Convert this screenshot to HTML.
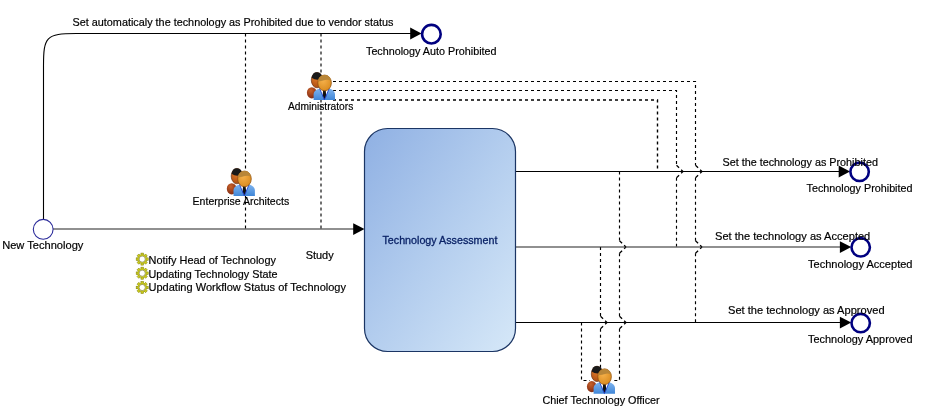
<!DOCTYPE html>
<html>
<head>
<meta charset="utf-8">
<title>Technology Assessment Workflow</title>
<style>
html,body{margin:0;padding:0;background:#fff;}
body{width:933px;height:419px;overflow:hidden;}
svg{display:block;will-change:transform;}
text{font-family:"Liberation Sans",sans-serif;font-size:11.4px;fill:#000;stroke:#000;stroke-width:0.2px;}
.ln{stroke:#000;stroke-width:1.1;fill:none;}
.ds{stroke:#000;stroke-width:1.15;fill:none;stroke-dasharray:3 3;}
.ev{fill:#fff;stroke:#000080;stroke-width:2.6;}
</style>
</head>
<body>
<svg width="933" height="419" viewBox="0 0 933 419">
<defs>
<linearGradient id="boxg" x1="0" y1="0" x2="1" y2="1">
<stop offset="0" stop-color="#8fb0e3"/>
<stop offset="0.5" stop-color="#b3cdee"/>
<stop offset="1" stop-color="#d6e8f8"/>
</linearGradient>
<radialGradient id="faceF" cx="0.4" cy="0.35" r="0.7">
<stop offset="0" stop-color="#f5b04a"/>
<stop offset="1" stop-color="#d98a1e"/>
</radialGradient>
<radialGradient id="faceB" cx="0.4" cy="0.35" r="0.7">
<stop offset="0" stop-color="#e07a2a"/>
<stop offset="1" stop-color="#a84a10"/>
</radialGradient>
<radialGradient id="bodyB" cx="0.4" cy="0.3" r="0.8">
<stop offset="0" stop-color="#c8622a"/>
<stop offset="1" stop-color="#7a2410"/>
</radialGradient>
<linearGradient id="suit" x1="0" y1="0" x2="0" y2="1">
<stop offset="0" stop-color="#7fb4ee"/>
<stop offset="1" stop-color="#3f86d8"/>
</linearGradient>
<g id="people">
<!-- back person -->
<ellipse cx="4.8" cy="20.3" rx="4.9" ry="5.6" fill="url(#bodyB)"/>
<ellipse cx="10" cy="7.6" rx="5.7" ry="7.7" fill="url(#faceB)" stroke="#5a2408" stroke-width="0.6"/>
<path d="M4.6 5.2 A5.7 7.7 0 0 1 15.6 5.6 Q10 9 4.6 5.2Z" fill="#1a1a1a"/>
<!-- front person -->
<path d="M6.6 27.5 L6.6 21.5 Q6.8 17.6 12.5 16 L22.5 16 Q27.6 17.6 28 21.5 L28 27.5Z" fill="url(#suit)"/>
<path d="M12.6 16 L17.4 27.4 L22.2 16Z" fill="#fff"/>
<path d="M16.2 17 L18.6 17 L19.3 23.5 L17.4 27.2 L15.6 23.5Z" fill="#111"/>
<path d="M12.6 16 L17.4 27.4 L22.2 16" fill="none" stroke="#1c3fd0" stroke-width="0.9"/>
<ellipse cx="17.6" cy="10.4" rx="6.8" ry="7.9" fill="url(#faceF)" stroke="#8a4a0c" stroke-width="0.7"/>
<path d="M11 8.6 A6.8 7.9 0 0 1 24.2 8.6 Q21 6.4 18 7.6 Q14 9.2 11 8.6Z" fill="#b98638"/>
</g>
<g id="gear">
<g fill="#d2d21c" stroke="#84840f" stroke-width="0.6">
<rect x="-1.25" y="-6" width="2.5" height="12"/>
<rect x="-1.25" y="-6" width="2.5" height="12" transform="rotate(45)"/>
<rect x="-1.25" y="-6" width="2.5" height="12" transform="rotate(90)"/>
<rect x="-1.25" y="-6" width="2.5" height="12" transform="rotate(135)"/>
</g>
<circle r="4.4" fill="#d2d21c" stroke="#84840f" stroke-width="0.3"/>
<circle r="3.1" fill="#fff" stroke="#8f8f55" stroke-width="0.8"/>
</g>
<path id="arrow" d="M0 0 L-11.3 -5.9 L-11.3 5.9Z" fill="#000"/>
</defs>

<!-- dashed association lines -->
<path class="ds" d="M245.5 33.5 V229"/>
<path class="ds" d="M321 33.5 V229" style="stroke-width:1.4;stroke:#333"/>
<path class="ds" d="M333 81.5 H695.5 V165.3 m0 12.4 V240.8 m0 12.4 V322"/>
<path class="ds" d="M333 90.5 H676.5 V165.3 m0 12.4 V246.5"/>
<path class="ds" d="M333 100 H657.5 V171.5" style="stroke-width:1.4"/>
<path class="ds" d="M581.5 322.5 V380.5 H590"/>
<path class="ds" d="M600.5 247 V316.3 m0 12.4 V368"/>
<path class="ds" d="M619.5 171.5 V240.8 m0 12.4 V316.3 m0 12.4 V380.5 H612"/>

<path class="ds" style="stroke-dasharray:2.6 2.8 3.6 9;stroke-width:1.25" d="M702.0 171.5 L695.5 165.3 M702.0 171.5 L695.5 177.7 M702.0 247 L695.5 240.8 M702.0 247 L695.5 253.2 M683.0 171.5 L676.5 165.3 M683.0 171.5 L676.5 177.7 M607.0 322.5 L600.5 316.3 M607.0 322.5 L600.5 328.7 M626.0 247 L619.5 240.8 M626.0 247 L619.5 253.2 M626.0 322.5 L619.5 316.3 M626.0 322.5 L619.5 328.7"/>
<!-- solid flows -->
<path class="ln" d="M43.5 219 V66 C43.5 37 46 33.5 76 33.5 H411"/>
<use href="#arrow" x="421.5" y="33.5"/>
<path class="ln" d="M53 229 H354" style="stroke:#222;stroke-width:1.2"/>
<use href="#arrow" x="364.5" y="229.1"/>
<path class="ln" d="M516 171.500 H840"/>
<use href="#arrow" x="850" y="171.5"/>
<path class="ln" d="M516 247 H841" style="stroke:#222;stroke-width:1.2"/>
<use href="#arrow" x="851.2" y="247.1"/>
<path class="ln" d="M516 322.500 H841"/>
<use href="#arrow" x="851.2" y="322.6"/>

<!-- main box -->
<rect x="364.500" y="128.500" width="151" height="223" rx="23" ry="23" fill="url(#boxg)" stroke="#1b3564" stroke-width="1.2"/>
<text x="382.500" y="243.500" textLength="114.900" lengthAdjust="spacingAndGlyphs" style="fill:#0a2266;stroke:#0a2266;stroke-width:0.3px">Technology Assessment</text>

<!-- events -->
<circle cx="43.200" cy="229.300" r="9.900" fill="#fff" stroke="#2a2a9a" stroke-width="1.1"/>
<circle class="ev" cx="431.400" cy="34.200" r="9.300"/>
<circle class="ev" cx="859.600" cy="171.800" r="9.200"/>
<circle class="ev" cx="860.700" cy="247.300" r="9.200"/>
<circle class="ev" cx="860.700" cy="323.100" r="9.200"/>

<!-- flow labels -->
<text x="72.500" y="26" textLength="321" lengthAdjust="spacingAndGlyphs">Set automaticaly the technology as Prohibited due to vendor status</text>
<text x="722.500" y="165.800" textLength="155.400" lengthAdjust="spacingAndGlyphs">Set the technology as Prohibited</text>
<text x="715" y="240" textLength="155.3" lengthAdjust="spacingAndGlyphs">Set the technology as Accepted</text>
<text x="728" y="313.600" textLength="156.6" lengthAdjust="spacingAndGlyphs">Set the technology as Approved</text>
<text x="305.700" y="259" textLength="28" lengthAdjust="spacingAndGlyphs">Study</text>

<!-- event labels -->
<text x="2.200" y="249.400" textLength="81.200" lengthAdjust="spacingAndGlyphs">New Technology</text>
<text x="366" y="54.500" textLength="130.500" lengthAdjust="spacingAndGlyphs">Technology Auto Prohibited</text>
<text x="806.500" y="192" textLength="106" lengthAdjust="spacingAndGlyphs">Technology Prohibited</text>
<text x="808" y="267.500" textLength="104.500" lengthAdjust="spacingAndGlyphs">Technology Accepted</text>
<text x="808" y="342.500" textLength="104.500" lengthAdjust="spacingAndGlyphs">Technology Approved</text>

<!-- roles -->
<use href="#people" x="307" y="72.500"/>
<text x="288" y="109.800" textLength="65.300" lengthAdjust="spacingAndGlyphs">Administrators</text>
<use href="#people" x="226.900" y="168.500"/>
<text x="192.600" y="204.800" textLength="96.600" lengthAdjust="spacingAndGlyphs">Enterprise Architects</text>
<use href="#people" x="587" y="366.300"/>
<text x="542.400" y="404.300" textLength="117.300" lengthAdjust="spacingAndGlyphs">Chief Technology Officer</text>

<!-- operations -->
<use href="#gear" x="142.200" y="259.100"/>
<text x="148.500" y="263.700" textLength="127.500" lengthAdjust="spacingAndGlyphs">Notify Head of Technology</text>
<use href="#gear" x="142.200" y="273.200"/>
<text x="148.500" y="278" textLength="129" lengthAdjust="spacingAndGlyphs">Updating Technology State</text>
<use href="#gear" x="142.200" y="287.500"/>
<text x="148.500" y="290.600" textLength="197.500" lengthAdjust="spacingAndGlyphs">Updating Workflow Status of Technology</text>
</svg>
</body>
</html>
